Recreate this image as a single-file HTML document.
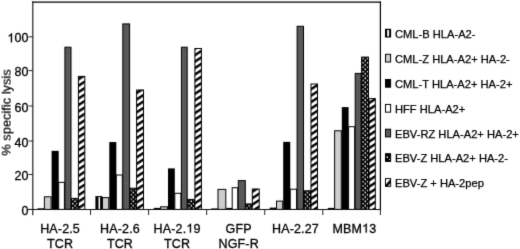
<!DOCTYPE html>
<html><head><meta charset="utf-8"><style>
html,body{margin:0;padding:0;background:#fff;}
svg{display:block;}
.ax{font-family:"Liberation Sans",sans-serif;font-size:12.7px;fill:#000;stroke:#000;stroke-width:0.3px;}
.lg{font-family:"Liberation Sans",sans-serif;font-size:11.15px;fill:#000;stroke:#000;stroke-width:0.25px;}
</style></head><body>
<svg width="520" height="249" viewBox="0 0 520 249">
<defs>
<filter id="bl" filterUnits="userSpaceOnUse" x="0" y="0" width="520" height="249" color-interpolation-filters="sRGB"><feConvolveMatrix order="3" kernelMatrix="0.0113 0.0835 0.0113 0.0835 0.62 0.0835 0.0113 0.0835 0.0113" edgeMode="duplicate" preserveAlpha="true"/></filter>
<pattern id="chk0" patternUnits="userSpaceOnUse" x="73.85" y="209.10" width="4.4" height="4.4"><rect width="4.4" height="4.4" fill="#000"/><circle cx="1.1" cy="1.1" r="0.8" fill="#fff"/><circle cx="3.3" cy="3.3" r="0.8" fill="#fff"/></pattern>
<pattern id="chk1" patternUnits="userSpaceOnUse" x="132.25" y="209.10" width="4.4" height="4.4"><rect width="4.4" height="4.4" fill="#000"/><circle cx="1.1" cy="1.1" r="0.8" fill="#fff"/><circle cx="3.3" cy="3.3" r="0.8" fill="#fff"/></pattern>
<pattern id="chk2" patternUnits="userSpaceOnUse" x="190.20" y="209.10" width="4.4" height="4.4"><rect width="4.4" height="4.4" fill="#000"/><circle cx="1.1" cy="1.1" r="0.8" fill="#fff"/><circle cx="3.3" cy="3.3" r="0.8" fill="#fff"/></pattern>
<pattern id="chk3" patternUnits="userSpaceOnUse" x="247.95" y="209.10" width="4.4" height="4.4"><rect width="4.4" height="4.4" fill="#000"/><circle cx="1.1" cy="1.1" r="0.8" fill="#fff"/><circle cx="3.3" cy="3.3" r="0.8" fill="#fff"/></pattern>
<pattern id="chk4" patternUnits="userSpaceOnUse" x="306.40" y="209.10" width="4.4" height="4.4"><rect width="4.4" height="4.4" fill="#000"/><circle cx="1.1" cy="1.1" r="0.8" fill="#fff"/><circle cx="3.3" cy="3.3" r="0.8" fill="#fff"/></pattern>
<pattern id="chk5" patternUnits="userSpaceOnUse" x="364.20" y="209.10" width="4.4" height="4.4"><rect width="4.4" height="4.4" fill="#000"/><circle cx="1.1" cy="1.1" r="0.8" fill="#fff"/><circle cx="3.3" cy="3.3" r="0.8" fill="#fff"/></pattern>
<pattern id="dg" patternUnits="userSpaceOnUse" width="2" height="2"><rect width="2" height="2" fill="#5e5e5e"/><rect width="1" height="1" fill="#4a4a4a"/></pattern>
<pattern id="chk" patternUnits="userSpaceOnUse" width="5" height="4.4"><rect width="5" height="4.4" fill="#000"/><circle cx="1.25" cy="1.1" r="0.75" fill="#fff"/><circle cx="3.75" cy="3.3" r="0.75" fill="#fff"/></pattern>
<pattern id="diag" patternUnits="userSpaceOnUse" width="10" height="5.4" patternTransform="rotate(-33)"><rect width="10" height="5.4" fill="#fff"/><rect width="10" height="2.45" fill="#000"/></pattern>
</defs>
<g filter="url(#bl)">
<rect width="520" height="249" fill="#fff"/>
<rect x="37.50" y="208.30" width="6.90" height="1.10" fill="#000"/>
<rect x="44.40" y="196.80" width="6.70" height="12.60" fill="#cdcdcd" stroke="#000" stroke-width="1.0"/>
<rect x="51.60" y="150.84" width="7.10" height="58.56" fill="#000"/>
<rect x="58.70" y="182.35" width="5.70" height="27.05" fill="#fff" stroke="#000" stroke-width="1.0"/>
<rect x="64.90" y="47.20" width="6.10" height="162.20" fill="url(#dg)" stroke="#000" stroke-width="1.0"/>
<rect x="71.50" y="198.40" width="6.40" height="11.00" fill="url(#chk0)" stroke="#000" stroke-width="1.0"/>
<rect x="78.40" y="76.40" width="6.40" height="133.00" fill="url(#diag)" stroke="#000" stroke-width="1.0"/>
<rect x="95.40" y="196.10" width="7.05" height="13.30" fill="#000"/>
<rect x="98.50" y="197.10" width="1.6" height="12.30" fill="#fff"/>
<rect x="102.45" y="197.60" width="6.35" height="11.80" fill="#cdcdcd" stroke="#000" stroke-width="1.0"/>
<rect x="109.30" y="142.05" width="7.00" height="67.35" fill="#000"/>
<rect x="116.30" y="175.00" width="6.00" height="34.40" fill="#fff" stroke="#000" stroke-width="1.0"/>
<rect x="122.80" y="23.90" width="6.80" height="185.50" fill="url(#dg)" stroke="#000" stroke-width="1.0"/>
<rect x="130.10" y="188.20" width="6.00" height="21.20" fill="url(#chk1)" stroke="#000" stroke-width="1.0"/>
<rect x="136.60" y="90.00" width="6.90" height="119.40" fill="url(#diag)" stroke="#000" stroke-width="1.0"/>
<rect x="153.70" y="207.90" width="6.90" height="1.50" fill="#000"/>
<rect x="160.60" y="206.80" width="6.90" height="2.60" fill="#cdcdcd" stroke="#000" stroke-width="1.0"/>
<rect x="168.00" y="168.40" width="6.80" height="41.00" fill="#000"/>
<rect x="174.80" y="193.30" width="6.10" height="16.10" fill="#fff" stroke="#000" stroke-width="1.0"/>
<rect x="181.40" y="47.20" width="5.80" height="162.20" fill="url(#dg)" stroke="#000" stroke-width="1.0"/>
<rect x="187.70" y="199.40" width="6.70" height="10.00" fill="url(#chk2)" stroke="#000" stroke-width="1.0"/>
<rect x="194.90" y="48.50" width="6.50" height="160.90" fill="url(#diag)" stroke="#000" stroke-width="1.0"/>
<rect x="211.20" y="208.40" width="6.80" height="1.00" fill="#000"/>
<rect x="218.00" y="189.40" width="7.80" height="20.00" fill="#cdcdcd" stroke="#000" stroke-width="1.0"/>
<rect x="226.30" y="207.90" width="5.90" height="1.50" fill="#000"/>
<rect x="232.20" y="187.70" width="5.60" height="21.70" fill="#fff" stroke="#000" stroke-width="1.0"/>
<rect x="238.30" y="180.60" width="7.00" height="28.80" fill="url(#dg)" stroke="#000" stroke-width="1.0"/>
<rect x="245.80" y="203.90" width="6.00" height="5.50" fill="url(#chk3)" stroke="#000" stroke-width="1.0"/>
<rect x="252.30" y="189.00" width="6.90" height="20.40" fill="url(#diag)" stroke="#000" stroke-width="1.0"/>
<rect x="269.70" y="207.60" width="6.80" height="1.80" fill="#000"/>
<rect x="276.50" y="201.10" width="6.20" height="8.30" fill="#cdcdcd" stroke="#000" stroke-width="1.0"/>
<rect x="283.20" y="141.85" width="7.05" height="67.55" fill="#000"/>
<rect x="290.25" y="189.20" width="6.35" height="20.20" fill="#fff" stroke="#000" stroke-width="1.0"/>
<rect x="297.10" y="26.30" width="6.40" height="183.10" fill="url(#dg)" stroke="#000" stroke-width="1.0"/>
<rect x="304.00" y="190.80" width="6.50" height="18.60" fill="url(#chk4)" stroke="#000" stroke-width="1.0"/>
<rect x="311.00" y="84.00" width="6.50" height="125.40" fill="url(#diag)" stroke="#000" stroke-width="1.0"/>
<rect x="327.80" y="207.90" width="6.80" height="1.50" fill="#000"/>
<rect x="334.60" y="130.75" width="6.70" height="78.65" fill="#cdcdcd" stroke="#000" stroke-width="1.0"/>
<rect x="341.80" y="107.10" width="6.80" height="102.30" fill="#000"/>
<rect x="348.60" y="126.70" width="6.10" height="82.70" fill="#fff" stroke="#000" stroke-width="1.0"/>
<rect x="355.20" y="73.40" width="5.90" height="136.00" fill="url(#dg)" stroke="#000" stroke-width="1.0"/>
<rect x="361.60" y="57.10" width="6.90" height="152.30" fill="url(#chk5)" stroke="#000" stroke-width="1.0"/>
<rect x="369.00" y="98.60" width="6.30" height="110.80" fill="url(#diag)" stroke="#000" stroke-width="1.0"/>
<line x1="32.8" y1="1.2" x2="32.8" y2="215.2" stroke="#222" stroke-width="1.2"/>
<line x1="32.4" y1="2.0" x2="381" y2="2.0" stroke="#000" stroke-width="1.25"/>
<line x1="380.4" y1="1.4" x2="380.4" y2="209.5" stroke="#000" stroke-width="1.2"/>
<line x1="28" y1="209.5" x2="381" y2="209.5" stroke="#111" stroke-width="1.1"/>
<line x1="28.6" y1="209.40" x2="33" y2="209.40" stroke="#222" stroke-width="1"/>
<text x="21.55" y="214.90" class="ax" style="font-size:12.5px;letter-spacing:0.15px">0</text>
<line x1="28.6" y1="174.50" x2="33" y2="174.50" stroke="#222" stroke-width="1"/>
<text x="14.45" y="180.00" class="ax" style="font-size:12.5px;letter-spacing:0.15px">20</text>
<line x1="28.6" y1="141.00" x2="33" y2="141.00" stroke="#222" stroke-width="1"/>
<text x="14.45" y="146.50" class="ax" style="font-size:12.5px;letter-spacing:0.15px">40</text>
<line x1="28.6" y1="106.00" x2="33" y2="106.00" stroke="#222" stroke-width="1"/>
<text x="14.45" y="111.50" class="ax" style="font-size:12.5px;letter-spacing:0.15px">60</text>
<line x1="28.6" y1="70.60" x2="33" y2="70.60" stroke="#222" stroke-width="1"/>
<text x="14.45" y="76.10" class="ax" style="font-size:12.5px;letter-spacing:0.15px">80</text>
<line x1="28.6" y1="36.80" x2="33" y2="36.80" stroke="#222" stroke-width="1"/>
<text x="7.34" y="42.30" class="ax" style="font-size:12.5px;letter-spacing:0.15px"><tspan style="fill:none;stroke:none">1</tspan>00</text><path transform="translate(7.344,42.300) scale(0.006104,-0.006104)" d="M 763 0 L 583 0 L 583 1147 C 540 1106 483 1064 413 1023 C 343 982 280 951 225 930 L 225 1104 C 325 1151 412 1208 487 1274 C 562 1340 615 1404 646 1466 L 763 1466 Z" class="ax" style="stroke-width:49.2px"/>
<line x1="90.56" y1="209.4" x2="90.56" y2="215" stroke="#222" stroke-width="1"/>
<line x1="148.62" y1="209.4" x2="148.62" y2="215" stroke="#222" stroke-width="1"/>
<line x1="206.68" y1="209.4" x2="206.68" y2="215" stroke="#222" stroke-width="1"/>
<line x1="264.74" y1="209.4" x2="264.74" y2="215" stroke="#222" stroke-width="1"/>
<line x1="322.80" y1="209.4" x2="322.80" y2="215" stroke="#222" stroke-width="1"/>
<line x1="380.40" y1="209.4" x2="380.40" y2="215" stroke="#222" stroke-width="1"/>
<text x="40.17" y="232.60" class="ax" style="font-size:12.5px;letter-spacing:0.15px">HA-2.5</text>
<text x="47.01" y="247.70" class="ax" style="font-size:12.5px;letter-spacing:0.15px">TCR</text>
<text x="100.07" y="232.60" class="ax" style="font-size:12.5px;letter-spacing:0.15px">HA-2.6</text>
<text x="106.91" y="247.70" class="ax" style="font-size:12.5px;letter-spacing:0.15px">TCR</text>
<text x="153.62" y="232.60" class="ax" style="font-size:12.5px;letter-spacing:0.15px">HA-2.<tspan style="fill:none;stroke:none">1</tspan>9</text><path transform="translate(186.324,232.600) scale(0.006104,-0.006104)" d="M 763 0 L 583 0 L 583 1147 C 540 1106 483 1064 413 1023 C 343 982 280 951 225 930 L 225 1104 C 325 1151 412 1208 487 1274 C 562 1340 615 1404 646 1466 L 763 1466 Z" class="ax" style="stroke-width:49.2px"/>
<text x="164.01" y="247.70" class="ax" style="font-size:12.5px;letter-spacing:0.15px">TCR</text>
<text x="225.60" y="232.60" class="ax" style="font-size:12.5px;letter-spacing:0.15px">GFP</text>
<text x="218.51" y="247.70" class="ax" style="font-size:12.5px;letter-spacing:0.15px">NGF-R</text>
<text x="272.02" y="232.60" class="ax" style="font-size:12.5px;letter-spacing:0.15px">HA-2.27</text>
<text x="332.47" y="232.60" class="ax" style="font-size:12.5px;letter-spacing:0.15px">MBM<tspan style="fill:none;stroke:none">1</tspan>3</text><path transform="translate(362.079,232.600) scale(0.006104,-0.006104)" d="M 763 0 L 583 0 L 583 1147 C 540 1106 483 1064 413 1023 C 343 982 280 951 225 930 L 225 1104 C 325 1151 412 1208 487 1274 C 562 1340 615 1404 646 1466 L 763 1466 Z" class="ax" style="stroke-width:49.2px"/>

<rect x="385.0" y="28.80" width="6.1" height="8.7" fill="#000"/><rect x="387.2" y="30.00" width="1.9" height="6.299999999999999" fill="#fff"/>
<text x="395.0" y="37.60" class="lg">CML-B HLA-A2-</text>
<rect x="385.5" y="54.30" width="5.1" height="7.699999999999999" fill="#cdcdcd" stroke="#000" stroke-width="1"/>
<text x="395.0" y="62.80" class="lg">CML-Z HLA-A2+ HA-2-</text>
<rect x="385.5" y="79.50" width="5.1" height="7.699999999999999" fill="#000" stroke="#000" stroke-width="1"/>
<text x="395.0" y="87.55" class="lg">CML-T HLA-A2+ HA-2+</text>
<rect x="385.5" y="104.45" width="5.1" height="7.699999999999999" fill="#fff" stroke="#000" stroke-width="1"/>
<text x="395.0" y="112.80" class="lg">HFF HLA-A2+</text>
<rect x="385.5" y="129.20" width="5.1" height="7.699999999999999" fill="url(#dg)" stroke="#000" stroke-width="1"/>
<text x="395.0" y="137.60" class="lg">EBV-RZ HLA-A2+ HA-2+</text>
<rect x="385.5" y="153.70" width="5.1" height="7.699999999999999" fill="#000" stroke="#000" stroke-width="1"/>
<circle cx="387.30" cy="157.10" r="0.85" fill="#fff"/><circle cx="389.40" cy="159.30" r="0.6" fill="#ddd"/>
<text x="395.0" y="161.95" class="lg">EBV-Z HLA-A2+ HA-2-</text>
<rect x="385.5" y="178.60" width="5.1" height="7.699999999999999" fill="#fff" stroke="#000" stroke-width="1"/>
<polygon points="385.80,184.70 390.40,179.00 390.60,182.60 387.80,186.40 385.80,186.40" fill="#000"/>
<text x="395.0" y="186.80" class="lg">EBV-Z + HA-2pep</text>
</g>
<text transform="translate(10.6,112.5) rotate(-90)" text-anchor="middle" class="ax" style="font-size:12.85px;stroke-width:0.22px">% specific lysis</text>
</svg>
</body></html>
